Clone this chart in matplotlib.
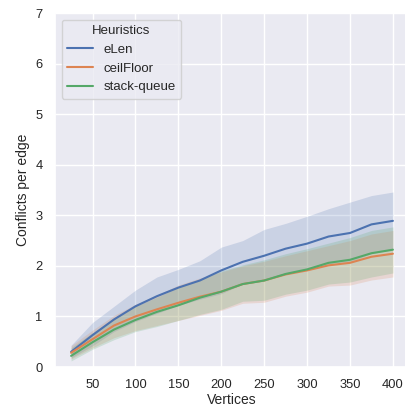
import numpy as np
import matplotlib
matplotlib.use("Agg")
import matplotlib.pyplot as plt
import seaborn as sns

vertices = [25, 50, 75, 100, 125, 150, 175, 200, 225, 250, 275, 300, 325, 350, 375, 400]

elen_mean = [0.30, 0.63, 0.94, 1.20, 1.40, 1.57, 1.71, 1.91, 2.08, 2.20, 2.34, 2.44, 2.58, 2.65, 2.82, 2.89]
elen_hi = [0.43, 0.88, 1.20, 1.52, 1.78, 1.93, 2.10, 2.37, 2.50, 2.72, 2.84, 2.98, 3.13, 3.26, 3.39, 3.46]
elen_lo = [0.18, 0.42, 0.70, 0.90, 1.06, 1.22, 1.34, 1.45, 1.64, 1.72, 1.84, 1.92, 2.04, 2.08, 2.24, 2.32]

ceil_mean = [0.28, 0.55, 0.82, 1.00, 1.14, 1.27, 1.39, 1.49, 1.64, 1.71, 1.83, 1.91, 2.01, 2.06, 2.18, 2.24]
ceil_hi = [0.42, 0.73, 1.02, 1.24, 1.42, 1.62, 1.76, 1.88, 2.00, 2.09, 2.20, 2.30, 2.40, 2.50, 2.63, 2.70]
ceil_lo = [0.16, 0.38, 0.58, 0.72, 0.82, 0.92, 1.02, 1.12, 1.26, 1.28, 1.40, 1.48, 1.60, 1.62, 1.72, 1.78]

sq_mean = [0.22, 0.49, 0.74, 0.93, 1.09, 1.22, 1.37, 1.49, 1.64, 1.71, 1.84, 1.93, 2.06, 2.12, 2.25, 2.32]
sq_hi = [0.38, 0.68, 0.96, 1.20, 1.38, 1.58, 1.74, 1.90, 2.02, 2.12, 2.24, 2.34, 2.45, 2.56, 2.70, 2.77]
sq_lo = [0.12, 0.35, 0.54, 0.70, 0.80, 0.92, 1.04, 1.14, 1.30, 1.32, 1.44, 1.52, 1.64, 1.68, 1.78, 1.86]

labels = ["eLen", "ceilFloor", "stack-queue"]

sns.set_theme(style="darkgrid")
plt.rcParams['font.family'] = ['Liberation Sans', 'DejaVu Sans']

fig = plt.figure(figsize=(4.06, 4.12), dpi=100)
ax = fig.add_axes([55 / 406, 45 / 412, 354 / 406, 354 / 412])

colors = sns.color_palette("deep")
series = [(elen_mean, elen_lo, elen_hi), (ceil_mean, ceil_lo, ceil_hi), (sq_mean, sq_lo, sq_hi)]
for (m, lo, hi), lab, c in zip(series, labels, colors):
    ax.plot(vertices, m, color=c, lw=1.5, label=lab)
    ax.fill_between(vertices, lo, hi, color=c, alpha=0.2, lw=0)

ax.set_xlim(6.25, 418.75)
ax.set_ylim(0, 7)
ax.set_xticks([50, 100, 150, 200, 250, 300, 350, 400])
ax.set_yticks(range(8))
ax.tick_params(labelsize=9.3, pad=3)
ax.set_xlabel("Vertices", fontsize=10, labelpad=1)
ax.set_ylabel("Conflicts per edge", fontsize=10, labelpad=4)
ax.legend(title="Heuristics", loc="upper left", fontsize=9.5, title_fontsize=9.5)

fig.savefig("out.png", dpi=100)
